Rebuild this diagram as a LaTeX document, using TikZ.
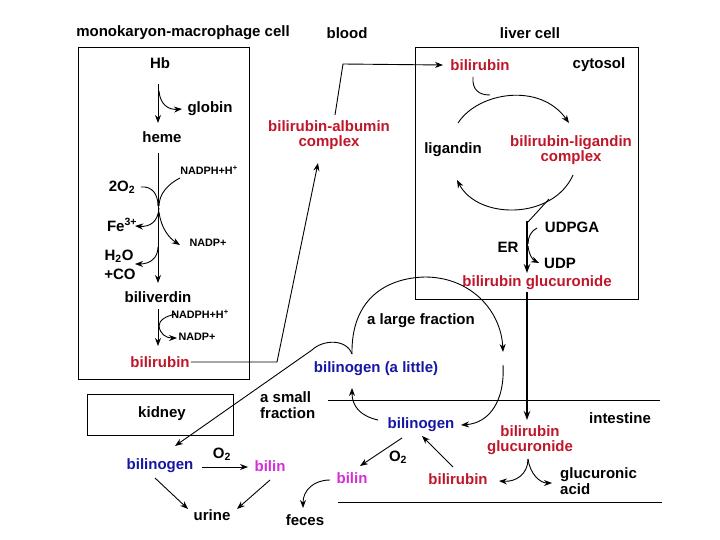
\documentclass[tikz,border=0pt]{standalone}
\usepackage{fontspec}
\setmainfont{Liberation Sans}
\usetikzlibrary{arrows.meta}
\definecolor{bred}{RGB}{192,22,42}
\definecolor{bblue}{RGB}{22,22,165}
\definecolor{bmag}{RGB}{215,45,215}
\begin{document}
\begin{tikzpicture}[x=1pt,y=-1pt,
  lbl/.style={font=\fontsize{15}{15.5}\selectfont\bfseries, inner sep=0pt},
  sml/.style={font=\fontsize{10.8}{12}\selectfont\bfseries, inner sep=0pt},
  ln/.style={line width=0.9pt},
  arr/.style={ln,-{Stealth[length=8pt,width=6pt]}},
  tharr/.style={line width=2pt,-{Stealth[length=9pt,width=6.5pt]}}]
\useasboundingbox (0,0) rectangle (720,540);
\fill[white] (0,0) rectangle (720,540);
% titles
\node[lbl] (tmono) at (183,33) {monokaryon-macrophage cell};
\node[lbl] (tblood) at (347,33) {blood};
\node[lbl] (tliver) at (530,33) {liver cell};
% boxes
\draw[ln] (78,47) rectangle (249,379);
\draw[ln] (415,47) rectangle (638,299);
\draw[ln] (87,394) rectangle (233,435);
% left box texts
\node[lbl] (hb) at (160,63) {Hb};
\node[lbl] (globin) at (210,109) {globin};
\node[lbl] (heme) at (162,137) {heme};
\node[lbl] (o2a) at (122,187) {2O\textsubscript{2}};
\node[sml] (nadph1) at (209,170) {NADPH+H\textsuperscript{+}};
\node[lbl] (fe) at (122,225) {Fe\textsuperscript{3+}};
\node[sml] (nadp1) at (208,243) {NADP+};
\node[lbl] (h2o) at (119,256) {H\textsubscript{2}O};
\node[lbl] (co) at (120,274) {+CO};
\node[lbl] (biliv) at (158,297) {biliverdin};
\node[sml] (nadph2) at (200,314) {NADPH+H\textsuperscript{+}};
\node[sml] (nadp2) at (197,337) {NADP+};
\node[lbl,text=bred] (bil1) at (160,362) {bilirubin};
% blood
\node[lbl,text=bred,align=center] (bac) at (329,135) {bilirubin-albumin\\complex};
% liver
\node[lbl,text=bred] (bil2) at (480,65) {bilirubin};
\node[lbl] (cyto) at (599,65) {cytosol};
\node[lbl] (ligandin) at (453,150) {ligandin};
\node[lbl,text=bred,align=center] (blc) at (571,150) {bilirubin-ligandin\\complex};
\node[lbl] (udpga) at (572,227) {UDPGA};
\node[lbl] (er) at (508,247) {ER};
\node[lbl] (udp) at (560,263) {UDP};
\node[lbl,text=bred] (bg1) at (537,283) {bilirubin glucuronide};
% lower
\node[lbl] (large) at (421,321) {a large fraction};
\node[lbl,text=bblue] (bla) at (376,369) {bilinogen (a little)};
\node[lbl,align=left,anchor=west] (small) at (260,405) {a small\\fraction};
\node[lbl] (kidney) at (162,414) {kidney};
\node[lbl] (intest) at (620,418) {intestine};
\node[lbl,text=bblue] (bgen2) at (421,425) {bilinogen};
\node[lbl,text=bred,align=center] (bg2) at (530,440) {bilirubin\\glucuronide};
\node[lbl,text=bblue] (bgen1) at (160,466) {bilinogen};
\node[lbl] (o2b) at (222,454) {O\textsubscript{2}};
\node[lbl,text=bmag] (bilin1) at (270,466) {bilin};
\node[lbl] (urine) at (212,515) {urine};
\node[lbl] (feces) at (305,520) {feces};
\node[lbl,text=bmag] (bilin2) at (352,478) {bilin};
\node[lbl] (o2c) at (398,457) {O\textsubscript{2}};
\node[lbl,text=bred] (bil3) at (458,479) {bilirubin};
\node[lbl,align=left,anchor=west] (gluc) at (560,481) {glucuronic\\acid};
% intestine lines
\coordinate (i1) at (328,400); \coordinate (i2) at (660,400);
\coordinate (i3) at (338,502); \coordinate (i4) at (662,502);
\draw[ln] (i1) -- (i2);
\draw[ln] (i3) -- (i4);
% ---- left box connectors
\coordinate (a1) at (158,84); \coordinate (a2) at (158,123);
\draw[arr] (a1) -- (a2);
\coordinate (g1) at (159,91); \coordinate (g2) at (182,109);
\draw[arr] (g1) .. controls (160,104) and (168,110) .. (g2);
\coordinate (b1) at (158,153); \coordinate (b2) at (158,283);
\draw[arr] (b1) -- (b2);
\coordinate (o1) at (141,187); \coordinate (o2) at (158,206);
\draw[ln] (o1) .. controls (152,186) and (158,194) .. (o2);
\coordinate (n1) at (180,178); \coordinate (n2) at (159,206);
\draw[ln] (n1) .. controls (168,184) and (159,194) .. (n2);
\coordinate (f1) at (159,208); \coordinate (f2) at (135,226);
\draw[arr] (f1) .. controls (158,222) and (150,227) .. (f2);
\coordinate (p1) at (159,212); \coordinate (p2) at (180,245);
\draw[arr] (p1) .. controls (161,228) and (169,238) .. (p2);
\coordinate (h1) at (158,247); \coordinate (h2) at (135,264);
\draw[arr] (h1) .. controls (158,258) and (150,264) .. (h2);
\coordinate (c1) at (158,309); \coordinate (c2) at (158,346);
\draw[arr] (c1) -- (c2);
\coordinate (m1) at (176,314); \coordinate (m2) at (159,326);
\draw[ln] (m1) .. controls (166,316) and (159,320) .. (m2);
\coordinate (q1) at (159,326); \coordinate (q2) at (177,338);
\draw[arr] (q1) .. controls (160,334) and (166,338) .. (q2);
% ---- blood
\coordinate (d1) at (277,362); \coordinate (d2) at (318,163);
\draw[arr] (bil1.east) ++(1,0) -- (d1) -- (d2);
\coordinate (e1) at (335,115); \coordinate (e2) at (343,64);
\coordinate (e3) at (443,65);
\draw[arr] (e1) -- (e2) -- (e3);
% ---- liver
\coordinate (k1) at (473,77); \coordinate (k2) at (490,95);
\draw[ln] (k1) .. controls (472,90) and (479,95) .. (k2);
\coordinate (u1) at (458,123); \coordinate (u2) at (569,123);
\draw[arr] (u1) .. controls (478,92) and (540,82) .. (u2);
\coordinate (w1) at (573,175); \coordinate (w2) at (457,180);
\draw[arr] (w1) .. controls (553,220) and (478,220) .. (w2);
\coordinate (r1) at (549,199); \coordinate (r2) at (528,222);
\draw[ln] (r1) -- (r2);
\coordinate (r3) at (527,221); \coordinate (r4) at (527,273);
\draw[tharr] (r3) -- (r4);
\coordinate (x1) at (537,228); \coordinate (x2) at (528,244);
\draw[ln] (x1) .. controls (531,231) and (528,237) .. (x2);
\coordinate (y1) at (528,246); \coordinate (y2) at (539,263);
\draw[arr] (y1) .. controls (529,255) and (533,260) .. (y2);
% thick line down to intestine
\coordinate (t1) at (527,292); \coordinate (t2) at (527,420);
\draw[tharr] (t1) -- (t2);
% big enterohepatic arc
\coordinate (s1) at (352,354); \coordinate (s2) at (425,277);
\coordinate (s3) at (503,352);
\draw[arr] (s1) .. controls (351,300) and (385,278) .. (s2)
  .. controls (470,277) and (501,310) .. (s3);
\coordinate (v1) at (503,365); \coordinate (v2) at (461,425);
\draw[arr] (v1) .. controls (505,400) and (490,423) .. (v2);
\coordinate (z1) at (378,420); \coordinate (z2) at (352,388);
\draw[arr] (z1) .. controls (360,416) and (352,406) .. (z2);
% small fraction to kidney
\coordinate (sf1) at (312,350); \coordinate (sf2) at (175,446);
\draw[arr] (s1) .. controls (346,338) and (322,340) .. (sf1) -- (sf2);
% ---- kidney / urine
\coordinate (j1) at (202,467); \coordinate (j2) at (248,467);
\draw[arr] (j1) -- (j2);
\coordinate (l1) at (155,478); \coordinate (l2) at (188,509);
\draw[arr] (l1) -- (l2);
\coordinate (l3) at (270,480); \coordinate (l4) at (237,509);
\draw[arr] (l3) -- (l4);
% ---- intestine
\coordinate (fc1) at (330,480); \coordinate (fc2) at (303,508);
\draw[arr] (fc1) .. controls (314,480) and (303,490) .. (fc2);
\coordinate (bb1) at (402,438); \coordinate (bb2) at (360,466);
\draw[arr] (bb1) -- (bb2);
\coordinate (rb1) at (453,467); \coordinate (rb2) at (422,436);
\draw[arr] (rb1) -- (rb2);
\coordinate (gl0) at (528,459); \coordinate (gl1) at (499,481);
\coordinate (gl2) at (552,483);
\draw[arr] (gl0) .. controls (528,474) and (516,482) .. (gl1);
\draw[arr] (gl0) .. controls (530,474) and (540,483) .. (gl2);
\end{tikzpicture}
\end{document}
